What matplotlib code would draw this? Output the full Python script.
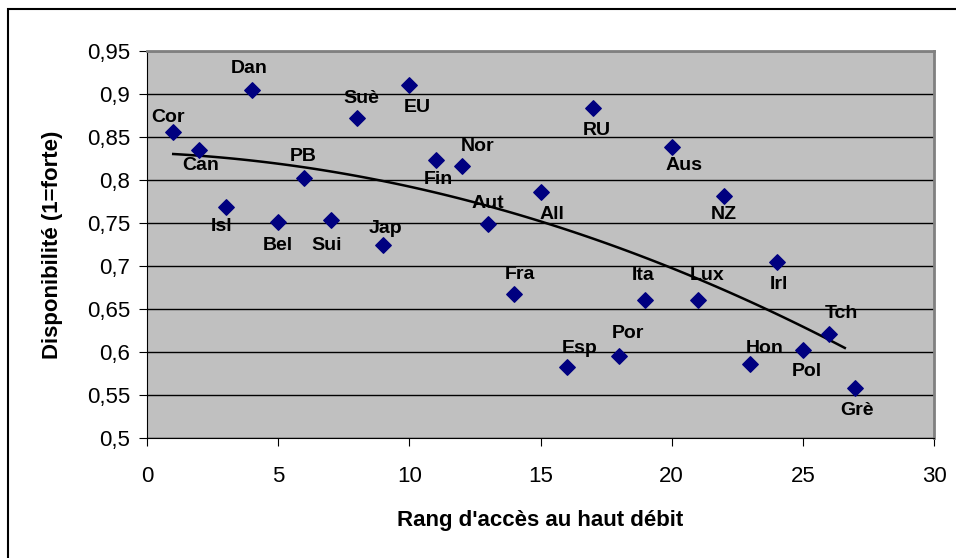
import matplotlib.pyplot as plt
import matplotlib.patches as mpatches
import numpy as np

plt.rcParams['font.family'] = ['Liberation Sans', 'DejaVu Sans']

pays = ['Cor', 'Can', 'Isl', 'Dan', 'Bel', 'PB', 'Sui', 'Suè', 'Jap', 'EU',
        'Fin', 'Nor', 'Aut', 'Fra', 'All', 'Esp', 'RU', 'Por', 'Ita', 'Aus',
        'Lux', 'NZ', 'Hon', 'Irl', 'Pol', 'Tch', 'Grè']
rang = [1, 2, 3, 4, 5, 6, 7, 8, 9, 10, 11, 12, 13, 14, 15, 16, 17, 18, 19, 20,
        21, 22, 23, 24, 25, 26, 27]
dispo = [0.856, 0.835, 0.769, 0.905, 0.751, 0.802, 0.753, 0.872, 0.725, 0.911,
         0.823, 0.816, 0.749, 0.668, 0.786, 0.583, 0.884, 0.595, 0.661, 0.838,
         0.661, 0.781, 0.586, 0.705, 0.602, 0.621, 0.558]
# label offsets in points (dx, dy)
offsets = [(-3.5, 10), (1, -11), (-3, -14), (-2, 15), (0, -16.5), (-1, 16), (-3, -18),
           (3, 14), (1.5, 11.5), (6, -16.5), (2, -14), (11, 14.5), (0, 14.5), (4, 14),
           (8, -16.5), (9, 13), (3, -16.5), (6, 16.5), (-1.5, 17), (9, -13),
           (7, 17), (0, -13), (10, 11.5), (2, -16.5), (3, -15), (9, 14.5), (1.5, -16)]

fig = plt.figure(figsize=(9.56, 5.58), dpi=100)
ax = fig.add_axes([147/956, 1-438/558, (934-147)/956, (438-51)/558])
ax.set_facecolor('#C0C0C0')

ax.scatter(rang, dispo, marker='D', s=62, color='#000080', zorder=3)
for name, x, y, (dx, dy) in zip(pays, rang, dispo, offsets):
    ax.annotate(name, (x, y), xytext=(dx, dy), textcoords='offset points',
                ha='center', va='center', fontsize=14, fontweight='bold', zorder=4)

# polynomial trend line (order 2)
coef = np.polyfit(rang, dispo, 2)
xt = np.linspace(1, 26.6, 100)
ax.plot(xt, np.polyval(coef, xt), color='black', lw=1.8, zorder=2)

ax.set_xlim(0, 30)
ax.set_ylim(0.5, 0.95)
ax.set_xticks(range(0, 31, 5))
yt = np.arange(0.5, 0.951, 0.05)
ax.set_yticks(yt)
ax.set_yticklabels([('%g' % round(v, 2)).replace('.', ',') for v in yt])
ax.yaxis.grid(True, color='black', lw=1)
ax.set_axisbelow(True)
ax.tick_params(labelsize=16, direction='out', length=6, color='black', pad=6)
ax.tick_params(axis='x', pad=14)
for s in ['top', 'right']:
    ax.spines[s].set_color('#808080')
    ax.spines[s].set_linewidth(2)
for s in ['left', 'bottom']:
    ax.spines[s].set_color('black')

ax.set_xlabel("Rang d'accès au haut débit", fontsize=16, fontweight='bold', labelpad=17)
ax.set_ylabel('Disponibilité (1=forte)', fontsize=16, fontweight='bold', labelpad=17)

fig.patches.append(mpatches.Rectangle((8/956, -0.1), 1.2, 1 - 9/558 + 0.1,
                                      transform=fig.transFigure, fill=False,
                                      edgecolor='black', lw=1.5))

fig.savefig('out.png', dpi=100)
